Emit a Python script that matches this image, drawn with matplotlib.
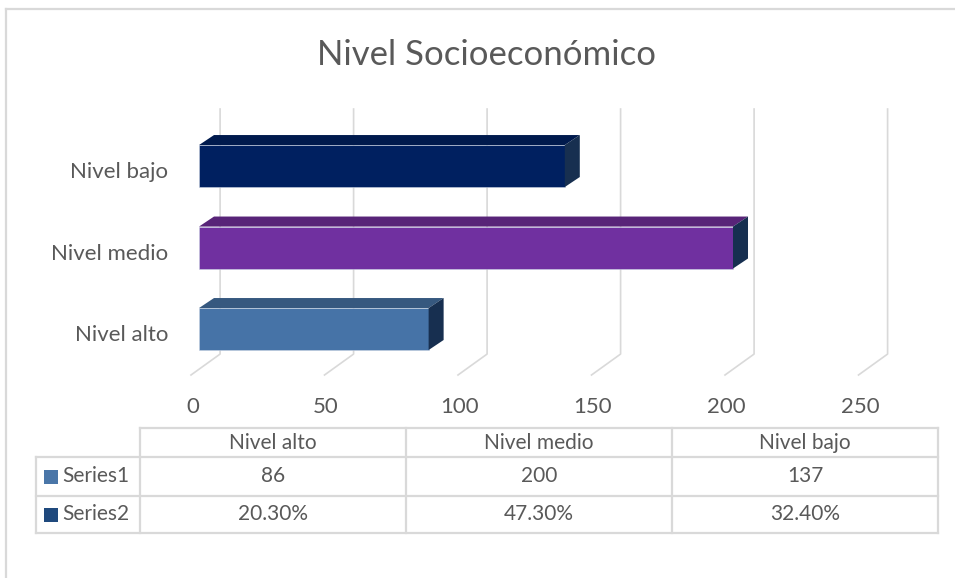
import matplotlib.pyplot as plt
from matplotlib.patches import Polygon, Rectangle

plt.rcParams['font.family'] = ['Lato', 'DejaVu Sans']

# Datos
categorias = ['Nivel alto', 'Nivel medio', 'Nivel bajo']
valores = [86, 200, 137]
porcentajes = ['20.30%', '47.30%', '32.40%']
series = ['Series1', 'Series2']
ticks = [0, 50, 100, 150, 200, 250]

colores_frente = ['#4673a7', '#7030a0', '#002060']
colores_arriba = ['#36587f', '#582478', '#001a4d']
color_lado = '#172f50'
colores_leyenda = ['#4a76a8', '#1f497d']
gris = '#d9d9d9'
texto = '#595959'

W, H = 955, 578
fig = plt.figure(figsize=(W / 100, H / 100), dpi=100)

# Capa en pixeles para borde y tabla
over = fig.add_axes([0, 0, 1, 1])
over.set_xlim(0, W)
over.set_ylim(H, 0)
over.axis('off')
over.plot([6, W], [9, 9], color=gris, lw=1.6)
over.plot([6, 6], [9, H], color=gris, lw=1.6)

over.text(486, 55, 'Nivel Socioeconómico', ha='center', va='center',
          fontsize=25, color=texto)

# Grafico de barras "3D"
ax = fig.add_axes([199 / W, 1 - 375 / H, (866.5 - 199) / W, (375 - 109) / H])
ax.set_xlim(0, 250)
ax.set_ylim(-0.564, 2.70)
ax.axis('off')

pos = list(range(len(categorias)))
alto = 0.515
dx, dy = 5.62, 0.123

for t in ticks:
    xb = t + 7.9
    ax.plot([xb, xb, t - 3.0], [2.70, -0.307, -0.564], color=gris, lw=1.2,
            clip_on=False, zorder=1)
    ax.text(t - 2.5, -0.957, str(t), ha='center', va='center', fontsize=16,
            color=texto, clip_on=False)

ax.barh(pos, valores, height=alto, color=colores_frente, zorder=3,
        edgecolor='#c9d3e3', linewidth=0.4)
for p, v, ca in zip(pos, valores, colores_arriba):
    top = p + alto / 2
    bot = p - alto / 2
    ax.add_patch(Polygon([(0, top), (v, top), (v + dx, top + dy), (dx, top + dy)],
                         closed=True, facecolor=ca, edgecolor='none', zorder=3,
                         clip_on=False))
    ax.add_patch(Polygon([(v, bot), (v, top), (v + dx, top + dy), (v + dx, bot + dy)],
                         closed=True, facecolor=color_lado, edgecolor='none', zorder=3,
                         clip_on=False))

for p, c in zip(pos, categorias):
    ax.text(-11.6, p - 0.074, c, ha='right', va='center', fontsize=16,
            color=texto, clip_on=False)

# Tabla de datos
col_x = [140, 406, 672, 938]
fil_y = [428, 457, 496, 533]
over.plot([140, 938], [428, 428], color=gris, lw=1.6)
for y in fil_y[1:]:
    over.plot([36, 938], [y, y], color=gris, lw=1.6)
over.plot([36, 36], [457, 533], color=gris, lw=1.6)
for x in col_x:
    over.plot([x, x], [428, 533], color=gris, lw=1.6)

filas = [[str(v) for v in valores], porcentajes]
for i, c in enumerate(categorias):
    cx = (col_x[i] + col_x[i + 1]) / 2
    over.text(cx, 443, c, ha='center', va='center', fontsize=15, color=texto)
    for j in range(2):
        cy = (fil_y[j + 1] + fil_y[j + 2]) / 2
        over.text(cx, cy, filas[j][i], ha='center', va='center', fontsize=15,
                  color=texto)

for j, s in enumerate(series):
    cy = (fil_y[j + 1] + fil_y[j + 2]) / 2
    over.add_patch(Rectangle((44, cy - 7), 14, 14, facecolor=colores_leyenda[j],
                             edgecolor='none'))
    over.text(62, cy, s, ha='left', va='center', fontsize=15, color=texto)

plt.savefig('out.png', dpi=100)
